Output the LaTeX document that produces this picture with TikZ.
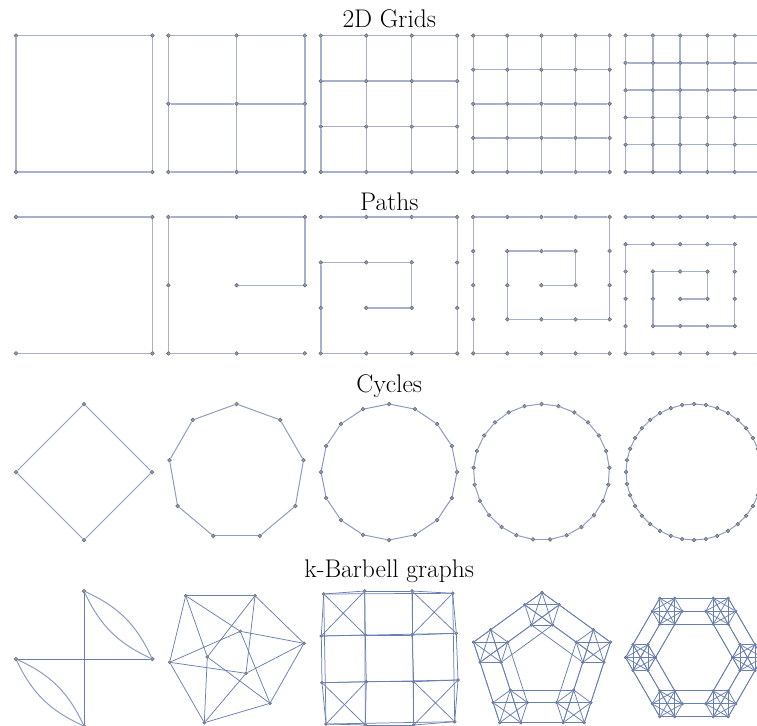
\documentclass[tikz,border=0pt]{standalone}
\usepackage{xcolor}
\usepackage{tikz}

\definecolor{edgeblue}{RGB}{166,177,206}
\definecolor{ringblue}{RGB}{140,156,196}
\definecolor{barblue}{RGB}{104,127,178}
\definecolor{dotgray}{RGB}{150,154,168}
\definecolor{dotrim}{RGB}{96,100,116}

\begin{document}
\begin{tikzpicture}[x=1pt, y=-1pt,
  vtx/.style={circle, draw=dotrim, fill=dotgray, line width=0.5pt, inner sep=0pt, minimum size=3.8pt},
  svtx/.style={vtx, minimum size=3pt},
  edge/.style={edgeblue, line width=1.4pt},
  ring/.style={ringblue, line width=1pt},
  bar/.style={barblue, line width=0.75pt},
  title/.style={font=\fontsize{25.5}{30}\selectfont, anchor=base, inner sep=0pt},
]
\useasboundingbox (0,0) rectangle (757,725);

% titles
\node[title] (tgrid)  at (389.3,28)  {2D Grids};
\node[title] (tpath)  at (389.3,210) {Paths};
\node[title] (tcycle) at (389.3,392) {Cycles};
\node[title] (tbar)   at (389.3,577) {k-Barbell graphs};

% 2D grids, n x n
\foreach \n [count=\i from 0] in {2,...,6} {
  \pgfmathsetmacro{\sx}{16+152.4*\i}
  \pgfmathsetmacro{\gap}{136.4/(\n-1)}
  \foreach \c in {1,...,\n}
    \foreach \r in {1,...,\n}
      \node[vtx] (g\n-\c-\r) at ({\sx+(\c-1)*\gap},{35.6+(\r-1)*\gap}) {};
  \foreach \a in {2,...,\n} {
    \pgfmathtruncatemacro{\b}{\a-1}
    \foreach \k in {1,...,\n} {
      \draw[edge] (g\n-\b-\k) -- (g\n-\a-\k);
      \draw[edge] (g\n-\k-\b) -- (g\n-\k-\a);
    }
  }
}

% paths, laid out as spirals
\foreach \n [count=\i from 0] in {2,...,6} {
  \pgfmathsetmacro{\sx}{16+152.4*\i}
  \pgfmathsetmacro{\gap}{136.4/(\n-1)}
  \foreach \c in {1,...,\n}
    \foreach \r in {1,...,\n}
      \node[vtx] (p\n-\c-\r) at ({\sx+(\c-1)*\gap},{217+(\r-1)*\gap}) {};
}
\foreach \v [remember=\v as \pv (initially 1-1)] in {2-1,2-2,1-2}
  \draw[edge] (p2-\pv) -- (p2-\v);
\foreach \v [remember=\v as \pv (initially 3-3)] in {2-3,1-3,1-2,1-1,2-1,3-1,3-2,2-2}
  \draw[edge] (p3-\pv) -- (p3-\v);
\foreach \v [remember=\v as \pv (initially 1-1)] in {2-1,3-1,4-1,4-2,4-3,4-4,3-4,2-4,1-4,1-3,1-2,2-2,3-2,3-3,2-3}
  \draw[edge] (p4-\pv) -- (p4-\v);
\foreach \v [remember=\v as \pv (initially 5-5)] in {4-5,3-5,2-5,1-5,1-4,1-3,1-2,1-1,2-1,3-1,4-1,5-1,5-2,5-3,5-4,4-4,3-4,2-4,2-3,2-2,3-2,4-2,4-3,3-3}
  \draw[edge] (p5-\pv) -- (p5-\v);
\foreach \v [remember=\v as \pv (initially 1-1)] in {2-1,3-1,4-1,5-1,6-1,6-2,6-3,6-4,6-5,6-6,5-6,4-6,3-6,2-6,1-6,1-5,1-4,1-3,1-2,2-2,3-2,4-2,5-2,5-3,5-4,5-5,4-5,3-5,2-5,2-4,2-3,3-3,4-3,4-4,3-4}
  \draw[edge] (p6-\pv) -- (p6-\v);

% cycles
\foreach \N [count=\i from 0] in {4,9,16,25,36} {
  \pgfmathsetmacro{\cx}{84+152.5*\i}
  \foreach \k in {1,...,\N}
    \node[vtx] (c\N-\k) at ({\cx+68*cos(90+360*(\k-1)/\N)},{472-68*sin(90+360*(\k-1)/\N)}) {};
  \foreach \k in {1,...,\N} {
    \pgfmathtruncatemacro{\nx}{mod(\k,\N)+1}
    \draw[ring] (c\N-\k) -- (c\N-\nx);
  }
}

% k-barbell, k=2
\node[vtx] (k2t) at (84,591) {};
\node[vtx] (k2r) at (152.3,659) {};
\node[vtx] (k2b) at (84,726) {};
\node[vtx] (k2l) at (16,659) {};
\draw[bar] (k2t) -- (k2b);
\draw[bar] (k2l) -- (k2r);
\draw[ring] (k2t) to[bend left=20] (k2r);
\draw[ring] (k2t) to[bend right=20] (k2r);
\draw[ring] (k2l) to[bend left=20] (k2b);
\draw[ring] (k2l) to[bend right=20] (k2b);

% k=3
\foreach \v/\x/\y in {a/185.7/595.7, b/255/595.7, c/304/643.3, d/240.3/631.3, e/207.3/657,
                      f/169.7/662.3, g/246/673.3, h/270/703.3, i/204.3/722.7}
  \node[svtx] (k3\v) at (\x,\y) {};
\foreach \u/\v in {a/b, b/e, a/e, c/d, d/h, c/h, f/g, g/i, f/i,
                   a/d, b/c, e/h, a/f, b/g, e/i, c/g, d/f, h/i}
  \draw[bar] (k3\u) -- (k3\v);

% k=4
\foreach \c/\r/\x/\y in {1/1/323.7/594, 2/1/364.7/591, 3/1/412/591, 4/1/452.7/593.3,
                         1/2/321.3/636, 2/2/365.3/635, 3/2/412/635, 4/2/456.3/633.3,
                         1/3/322/682.7, 2/3/366.3/681.7, 3/3/413.7/681.7, 4/3/458/680,
                         1/4/326/724, 2/4/365.3/725, 3/4/413.7/725, 4/4/454.7/721.7}
  \node[svtx] (k4-\c-\r) at (\x,\y) {};
\foreach \c/\r in {1/1,3/1,1/3,3/3} {
  \pgfmathtruncatemacro{\cc}{\c+1}
  \pgfmathtruncatemacro{\rr}{\r+1}
  \draw[bar] (k4-\c-\r) -- (k4-\cc-\r);
  \draw[bar] (k4-\cc-\r) -- (k4-\cc-\rr);
  \draw[bar] (k4-\cc-\rr) -- (k4-\c-\rr);
  \draw[bar] (k4-\c-\rr) -- (k4-\c-\r);
  \draw[bar] (k4-\c-\r) -- (k4-\cc-\rr);
  \draw[bar] (k4-\cc-\r) -- (k4-\c-\rr);
}
\foreach \k in {1,...,4} {
  \draw[bar] (k4-2-\k) -- (k4-3-\k);
  \draw[bar] (k4-1-\k) -- (k4-4-\k);
  \draw[bar] (k4-\k-2) -- (k4-\k-3);
  \draw[bar] (k4-\k-1) -- (k4-\k-4);
}

% k=5
\foreach \i in {0,...,4}
  \foreach \j in {0,...,4}
    \node[svtx, minimum size=2.8pt] (k5-\i-\j) at ({542+54*cos(90+72*\i)+18*cos(90+72*\j)},{664.4-54*sin(90+72*\i)-18*sin(90+72*\j)}) {};
\foreach \i in {0,...,4} {
  \pgfmathtruncatemacro{\ni}{mod(\i+1,5)}
  \foreach \j in {0,...,4}
    \draw[bar] (k5-\i-\j) -- (k5-\ni-\j);
  \foreach \j/\l in {0/1,0/2,0/3,0/4,1/2,1/3,1/4,2/3,2/4,3/4}
    \draw[bar] (k5-\i-\j) -- (k5-\i-\l);
}

% k=6
\foreach \i in {0,...,5}
  \foreach \j in {0,...,5}
    \node[svtx, minimum size=2.6pt] (k6-\i-\j) at ({694+53.5*cos(60*\i)+15*cos(60*\j)},{657.5-53.5*sin(60*\i)-15*sin(60*\j)}) {};
\foreach \i in {0,...,5} {
  \pgfmathtruncatemacro{\ni}{mod(\i+1,6)}
  \foreach \j in {0,...,5}
    \draw[bar] (k6-\i-\j) -- (k6-\ni-\j);
  \foreach \j in {0,...,4} {
    \pgfmathtruncatemacro{\js}{\j+1}
    \foreach \l in {\js,...,5}
      \draw[bar] (k6-\i-\j) -- (k6-\i-\l);
  }
}
\end{tikzpicture}
\end{document}
